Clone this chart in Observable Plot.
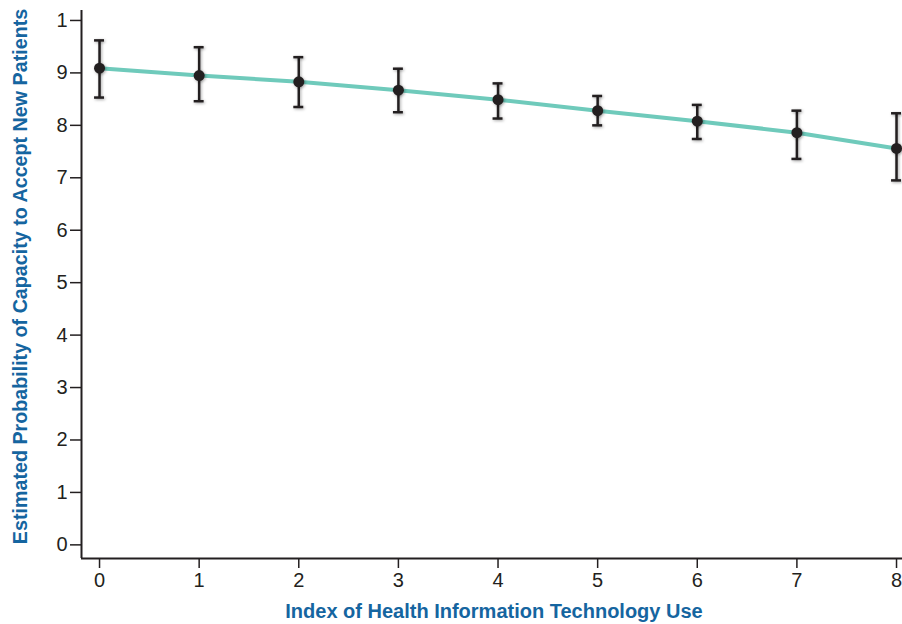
<!DOCTYPE html>
<html>
<head>
<meta charset="utf-8">
<script src="https://cdn.jsdelivr.net/npm/d3@7"></script>
<script src="https://cdn.jsdelivr.net/npm/@observablehq/plot@0.6"></script>
<style>
  html, body { margin: 0; padding: 0; background: #fff; }
  #chart svg { display: block; }
  #chart g[aria-label="dot"], #chart g.bars {
    filter: drop-shadow(1px 1px 1.5px rgba(0,0,0,0.35));
  }
</style>
</head>
<body>
<div id="chart"></div>
<script>
const indexValues = [0, 1, 2, 3, 4, 5, 6, 7, 8];
const estimates   = [0.909, 0.895, 0.883, 0.867, 0.849, 0.828, 0.808, 0.786, 0.756];
const upperCI     = [0.962, 0.949, 0.930, 0.908, 0.880, 0.856, 0.839, 0.828, 0.823];
const lowerCI     = [0.853, 0.846, 0.835, 0.825, 0.813, 0.800, 0.774, 0.736, 0.695];
const yTicks      = [0, 0.1, 0.2, 0.3, 0.4, 0.5, 0.6, 0.7, 0.8, 0.9, 1];
const yTickLabels = ["0", "1", "2", "3", "4", "5", "6", "7", "8", "9", "1"];
const xTicks      = [0, 1, 2, 3, 4, 5, 6, 7, 8];
const xTitle = "Index of Health Information Technology Use";
const yTitle = "Estimated Probability of Capacity to Accept New Patients";

const data = indexValues.map((x, i) => ({x, y: estimates[i], hi: upperCI[i], lo: lowerCI[i]}));

const xDomain = [-0.181, 8.06];
const yDomain = [-0.026, 1.019];
const capHalf = 0.05;
const ink = "#231f20";
const blue = "#1565a0";
const teal = "#6fcabb";
const font = "Liberation Sans, Arial, sans-serif";

const chart = Plot.plot({
  width: 902,
  height: 624,
  marginLeft: 81,
  marginRight: 0,
  marginTop: 10,
  marginBottom: 66,
  style: {fontFamily: font, color: ink, background: "#fff"},
  x: {domain: xDomain},
  y: {domain: yDomain},
  marks: [
    Plot.axisX({ticks: xTicks, tickSize: 10, tickPadding: 4, label: null, fontSize: 20,
                tickFormat: d => String(d), stroke: ink, fill: ink, strokeWidth: 1.5}),
    Plot.axisY({ticks: yTicks, tickSize: 11, tickPadding: 3, label: null, fontSize: 20,
                tickFormat: d => yTickLabels[yTicks.findIndex(t => Math.abs(t - d) < 1e-9)],
                stroke: ink, fill: ink, strokeWidth: 1.5}),
    Plot.ruleX([xDomain[0]], {stroke: ink, strokeWidth: 2}),
    Plot.ruleY([yDomain[0]], {stroke: ink, strokeWidth: 2}),
    Plot.line(data, {x: "x", y: "y", stroke: teal, strokeWidth: 4}),
    Plot.ruleX(data, {x: "x", y1: "lo", y2: "hi", stroke: ink, strokeWidth: 2.5, className: "bars"}),
    Plot.ruleY(data, {y: "hi", x1: d => d.x - capHalf, x2: d => d.x + capHalf, stroke: ink, strokeWidth: 2.5, className: "bars"}),
    Plot.ruleY(data, {y: "lo", x1: d => d.x - capHalf, x2: d => d.x + capHalf, stroke: ink, strokeWidth: 2.5, className: "bars"}),
    Plot.dot(data, {x: "x", y: "y", r: 5.5, fill: ink, stroke: "none"})
  ]
});

// Axis titles
const svg = d3.select(chart);
svg.append("text")
  .attr("x", 494).attr("y", 618)
  .attr("text-anchor", "middle")
  .style("fill", blue)
  .style("font-family", font)
  .style("font-weight", "bold").style("font-size", "20px")
  .text(xTitle);
svg.append("text")
  .attr("transform", "translate(27,276.5) rotate(-90)")
  .attr("text-anchor", "middle")
  .style("fill", blue)
  .style("font-family", font)
  .style("font-weight", "bold").style("font-size", "19.7px")
  .text(yTitle);

document.getElementById("chart").appendChild(chart);
</script>
</body>
</html>
